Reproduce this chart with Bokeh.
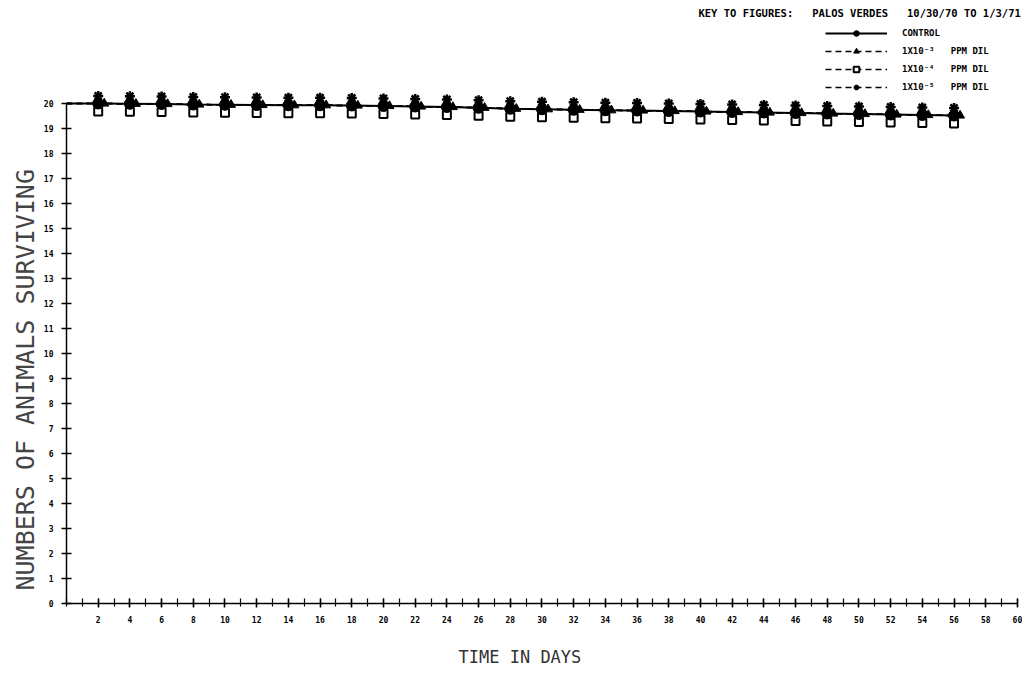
from bokeh.plotting import figure
from bokeh.models import (Range1d, FixedTicker, Legend, LegendItem, Label,
                          Title, ColumnDataSource)
from bokeh.transform import dodge
from bokeh.embed import file_html
from bokeh.resources import INLINE

# Survival counts (mean number of animals alive) by day of exposure
days = [0, 2, 4, 6, 8, 10, 12, 14, 16, 18, 20, 22, 24, 26, 28,
        30, 32, 34, 36, 38, 40, 42, 44, 46, 48, 50, 52, 54, 56]
control = [20.0, 20.0, 19.99, 19.98, 19.96, 19.95, 19.94, 19.93, 19.93, 19.92,
           19.90, 19.88, 19.86, 19.83, 19.79, 19.77, 19.75, 19.73, 19.72, 19.70,
           19.68, 19.66, 19.64, 19.62, 19.60, 19.58, 19.56, 19.54, 19.52]
dil_1e3 = [20.0, 20.0, 19.99, 19.98, 19.96, 19.95, 19.94, 19.93, 19.93, 19.92,
           19.90, 19.88, 19.86, 19.83, 19.79, 19.77, 19.75, 19.73, 19.72, 19.70,
           19.68, 19.66, 19.64, 19.62, 19.60, 19.58, 19.56, 19.54, 19.52]
dil_1e4 = [20.0, 20.0, 19.99, 19.98, 19.96, 19.95, 19.94, 19.93, 19.93, 19.92,
           19.90, 19.88, 19.86, 19.83, 19.79, 19.77, 19.75, 19.73, 19.72, 19.70,
           19.68, 19.66, 19.64, 19.62, 19.60, 19.58, 19.56, 19.54, 19.52]
dil_1e5 = [20.0, 20.0, 19.99, 19.98, 19.96, 19.95, 19.94, 19.93, 19.93, 19.92,
           19.90, 19.88, 19.86, 19.83, 19.79, 19.77, 19.75, 19.73, 19.72, 19.70,
           19.68, 19.66, 19.64, 19.62, 19.60, 19.58, 19.56, 19.54, 19.52]

series_labels = ["CONTROL", "1X10\u207b\u00b3\u00a0\u00a0\u00a0PPM DIL",
                 "1X10\u207b\u2074\u00a0\u00a0\u00a0PPM DIL",
                 "1X10\u207b\u2075\u00a0\u00a0\u00a0PPM DIL"]
x_major_ticks = list(range(2, 61, 2))
x_minor_ticks = list(range(0, 61))
y_ticks = list(range(0, 21))

key_title = ("KEY TO FIGURES:\u00a0\u00a0\u00a0PALOS VERDES\u00a0\u00a0\u00a0"
             "10/30/70 TO 1/3/71")
x_title = "TIME IN DAYS"
y_title = "NUMBERS OF ANIMALS SURVIVING"

MONO = "DejaVu Sans Mono"
INK = "#000000"

line_src = ColumnDataSource(dict(day=days, c=control, d3=dil_1e3,
                                 d4=dil_1e4, d5=dil_1e5))
mark_src = ColumnDataSource(dict(day=days[1:], c=control[1:], d3=dil_1e3[1:],
                                 d4=dil_1e4[1:], d5=dil_1e5[1:]))

p = figure(width=1022, height=692, output_backend="svg", toolbar_location=None,
           x_range=Range1d(0, 60.32), y_range=Range1d(0, 24.12),
           min_border_left=66, min_border_right=0, min_border_top=0,
           min_border_bottom=89)
p.outline_line_color = None
p.xgrid.visible = False
p.ygrid.visible = False
p.background_fill_color = "white"
p.border_fill_color = "white"

# axes
p.xaxis.ticker = FixedTicker(ticks=x_major_ticks, minor_ticks=x_minor_ticks)
p.yaxis.ticker = FixedTicker(ticks=y_ticks)
p.xaxis.bounds = (0, 60)
p.yaxis.bounds = (0, 20)
for ax in (p.xaxis, p.yaxis):
    ax.axis_line_color = INK
    ax.axis_line_width = 1.5
    ax.major_tick_line_color = INK
    ax.major_tick_line_width = 1.5
    ax.major_label_text_font = MONO
    ax.major_label_text_font_style = "bold"
    ax.major_label_text_font_size = "8px"
    ax.major_label_text_color = INK
p.xaxis.major_tick_in = 5
p.xaxis.major_tick_out = 4
p.xaxis.minor_tick_in = 5
p.xaxis.minor_tick_out = 3
p.xaxis.minor_tick_line_color = INK
p.xaxis.minor_tick_line_width = 1.2
p.xaxis.major_label_standoff = 8
p.yaxis.major_tick_in = 5
p.yaxis.major_tick_out = 5
p.yaxis.minor_tick_line_color = None
p.yaxis.major_label_standoff = 8

# axis titles, set in the side panels
p.add_layout(Title(text=y_title, align="left", offset=13, standoff=2,
                   text_font=MONO, text_font_style="normal",
                   text_font_size="25px", text_color="#444444"), "left")
p.add_layout(Title(text=x_title, align="left", offset=392, standoff=38,
                   text_font=MONO, text_font_style="normal",
                   text_font_size="17px", text_color="#333333"), "below")

# series lines
r_c = p.line("day", "c", source=line_src, line_color=INK, line_width=2)
r_3 = p.line("day", "d3", source=line_src, line_color=INK, line_width=1.5,
             line_dash="6 4")
r_4 = p.line("day", "d4", source=line_src, line_color=INK, line_width=1.5,
             line_dash="6 4")
r_5 = p.line("day", "d5", source=line_src, line_color=INK, line_width=1.5,
             line_dash="6 4")

# plotter symbols, nudged apart so that coincident points stay readable
m_4 = p.scatter(x="day", y=dodge("d4", -0.32, range=p.y_range), source=mark_src,
                marker="square", size=8, fill_color="white", line_color=INK,
                line_width=2)
m_3 = p.scatter(x=dodge("day", 0.38, range=p.x_range), y="d3", source=mark_src,
                marker="triangle", size=9, fill_color=INK, line_color=INK)
m_c = p.scatter(x="day", y="c", source=mark_src, marker="circle", size=11,
                fill_color=INK, line_color=INK)
m_5 = p.scatter(x="day", y=dodge("d5", 0.3, range=p.y_range), source=mark_src,
                marker="asterisk", size=10, line_color=INK, line_width=2.5)

legend = Legend(items=[LegendItem(label=series_labels[0], renderers=[r_c, m_c]),
                       LegendItem(label=series_labels[1], renderers=[r_3, m_3]),
                       LegendItem(label=series_labels[2], renderers=[r_4, m_4]),
                       LegendItem(label=series_labels[3], renderers=[r_5, m_5])],
                location=(759, 509), orientation="vertical",
                glyph_width=62, glyph_height=14, label_height=14, spacing=4,
                label_standoff=15, padding=0, margin=0,
                border_line_color=None, background_fill_alpha=0,
                label_text_font=MONO, label_text_font_style="bold",
                label_text_font_size="9px", label_text_color=INK)
p.add_layout(legend)

p.add_layout(Label(x=39.87, y=23.64, text=key_title, text_font=MONO,
                   text_font_style="bold", text_font_size="10.5px",
                   text_color=INK, text_baseline="middle", text_align="left"))

open("out.html", "w").write(file_html(p, INLINE))
